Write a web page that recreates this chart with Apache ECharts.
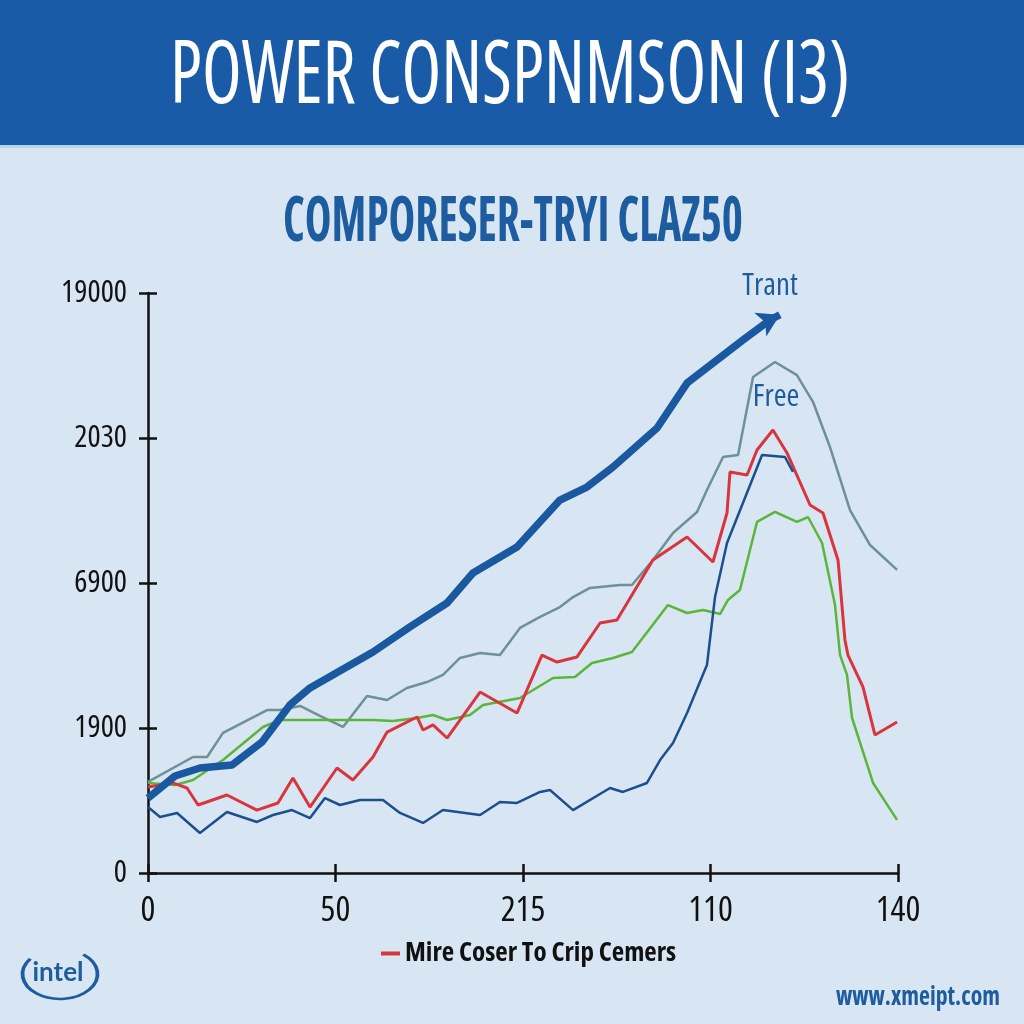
<!DOCTYPE html>
<html><head><meta charset="utf-8">
<script src="https://cdn.jsdelivr.net/npm/echarts@6/dist/echarts.min.js"></script>
<style>html,body{margin:0;padding:0;background:#d7e6f2}#c{width:1024px;height:1024px}</style>
</head><body><div id="c"></div>
<script>
// ---- tick labels (as printed on the chart) ----
const xTickLabels = ['0', '50', '215', '110', '140'];
const yTickLabels = ['0', '1900', '6900', '2030', '19000'];

// ---- series values: [x (sample index 0..40), y (axis units 0..400)] ----
const trendData = [[0,51.7],[1.44,66.9],[2.77,72.4],[4.48,74.5],[6.08,90.3],[7.57,115.9],[8.64,127.6],[12,152.4],[13.97,169.7],[15.95,186.2],[17.33,206.9],[19.68,224.8],[21.97,257.2],[23.41,266.2],[24.8,280],[27.15,306.9],[28.75,337.9],[31.73,367.6],[33.17,381.4],[33.7,385]];
const freeData = [[0,62.8],[2.4,80],[3.15,80],[4.0,96.6],[6.35,112.4],[7.04,112.4],[8.11,115.2],[9.17,108.3],[10.4,100.7],[11.68,122.1],[12.75,119.3],[13.81,127.6],[14.88,131.7],[15.73,136.6],[16.64,148.3],[17.71,151.7],[18.77,150.3],[19.84,169],[20.91,176.6],[21.97,183.4],[22.67,190.3],[23.57,196.6],[25.17,198.6],[25.81,198.6],[26.93,215.9],[28,234.5],[29.28,249],[29.81,264.1],[30.67,286.9],[31.47,288.3],[32.27,342.1],[33.44,352.4],[34.61,343.4],[35.47,324.8],[36.37,293.8],[37.44,250.3],[38.51,226.2],[39.95,209]];
const redData = [[0,59.3],[1.33,62.1],[2.08,58.6],[2.67,46.9],[4.21,53.8],[5.81,43.4],[6.93,48.3],[7.73,65.5],[8.64,45.5],[10.08,72.4],[10.93,64.1],[12,80],[12.75,97.2],[14.35,107.6],[14.67,98.6],[15.2,102.1],[15.95,93.1],[17.71,124.8],[19.68,110.3],[21.01,150.3],[21.81,145.5],[22.88,149],[24.11,172.4],[25.01,174.5],[26.93,215.9],[28.75,231.7],[30.13,214.5],[30.88,248.3],[31.04,276.6],[31.95,274.5],[32.48,291.7],[33.33,305.5],[34.08,289.7],[35.31,253.8],[36,248.3],[36.8,215.9],[37.17,160.7],[37.33,150.3],[38.13,128.3],[38.77,95.2],[39.95,104.1]];
const greenData = [[0,62.1],[1.44,60.7],[2.4,64.1],[4,77.9],[6.13,100.7],[7.04,105.5],[8.64,105.5],[10.24,105.5],[12,105.5],[13.07,104.8],[14.35,106.9],[15.2,109],[15.95,105.5],[17.17,109],[17.87,115.9],[19.84,120.7],[21.6,134.5],[22.77,135.2],[23.68,144.8],[24.8,148.3],[25.81,152.4],[27.73,184.8],[28.75,179.3],[29.6,181.4],[30.51,178.6],[30.93,188.3],[31.57,195.2],[32.48,242.1],[33.44,249],[34.61,242.1],[35.2,245.5],[35.95,227.6],[36.64,184.8],[36.91,150.3],[37.28,136.6],[37.55,106.9],[38.67,62.1],[39.95,36.6]];
const blueData = [[0,45.5],[0.64,38.6],[1.55,41.4],[2.77,27.6],[4.21,42.1],[5.81,35.2],[6.67,40],[7.68,43.4],[8.64,37.9],[9.44,51.7],[10.24,46.9],[11.31,50.3],[12.53,50.3],[13.44,41.4],[14.67,34.5],[15.73,43.4],[17.71,40],[18.77,49],[19.68,48.3],[20.91,55.9],[21.44,57.2],[22.67,43.4],[24.64,58.6],[25.33,55.9],[26.61,62.1],[27.31,77.9],[28,89.7],[28.75,110.3],[29.81,143.4],[30.24,190.3],[30.88,227.6],[32.75,288.3],[33.97,286.9],[34.4,276.6]];

const legendName = 'Mire Coser To Crip Cemers';
const BLUE = '#1d5c9f';

// ---- find an installed family that has a narrow width and use it for the label texts ----
const mctx = document.createElement('canvas').getContext('2d');
function pickCondensed() {
  const s = '19000 Mire Coser To Crip';
  if (!('fontStretch' in mctx)) return null;
  const tries = [['Noto Sans', 'extra-condensed', 0.8], ['Open Sans', 'condensed', 0.85], ['Noto Sans', 'condensed', 0.9], ['DejaVu Sans', 'condensed', 0.93]];
  for (const [f, st, lim] of tries) {
    mctx.fontStretch = 'normal';
    mctx.font = "40px '" + f + "'";
    const a = mctx.measureText(s).width;
    mctx.fontStretch = st;
    const b = mctx.measureText(s).width;
    mctx.fontStretch = 'normal';
    if (b < a * lim) return { family: f, stretch: st };
  }
  return null;
}
const cond = pickCondensed();
if (cond) {
  const desc = Object.getOwnPropertyDescriptor(CanvasRenderingContext2D.prototype, 'font');
  Object.defineProperty(CanvasRenderingContext2D.prototype, 'font', {
    configurable: true,
    get() { return desc.get.call(this); },
    set(v) { desc.set.call(this, v); this.fontStretch = (String(v).indexOf(cond.family) >= 0) ? cond.stretch : 'normal'; }
  });
}
const COND = cond ? ("'" + cond.family + "', sans-serif") : "'Liberation Sans', sans-serif";
const SZ = cond ? 1 : 0.88;

function fitScale(text, font, target) {
  mctx.font = font;
  return target / mctx.measureText(text).width;
}

const titleText = 'POWER CONSPNMSON (I3)';
const titleFont = "normal 88px " + COND;
const subText = 'COMPORESER-TRYI CLAZ50';
const subFont = "bold 62px " + COND;
const urlText = 'www.xmeipt.com';
const urlFont = "bold 26px " + COND;

// decorate special points
const trendSeriesData = trendData.map((p, i) => i === trendData.length - 1 ? {
  value: p, symbol: 'arrow', symbolSize: [20, 22], symbolRotate: -63,
  label: { show: true, formatter: 'Trant', position: 'top', offset: [0, 4], fontFamily: COND, fontSize: Math.round(31 * SZ), color: BLUE }
} : p);
let peakIdx = 0; freeData.forEach((p, i) => { if (p[1] > freeData[peakIdx][1]) peakIdx = i; });
const freeSeriesData = freeData.map((p, i) => i === peakIdx ? {
  value: p, symbol: 'circle', symbolSize: 1, itemStyle: { color: 'rgba(0,0,0,0)' },
  label: { show: true, formatter: 'Free', position: 'bottom', distance: 18, offset: [1, 1], fontFamily: COND, fontSize: Math.round(31 * SZ), color: BLUE }
} : p);

const chart = echarts.init(document.getElementById('c'), null, { renderer: 'canvas' });
const tickStyle = { color: '#111', width: 2.5 };
chart.setOption({
  animation: false,
  backgroundColor: '#d7e6f2',
  grid: { left: 148, right: 126, top: 293, bottom: 151, containLabel: false },
  xAxis: [{
    type: 'value', min: 0, max: 40, interval: 10, position: 'bottom',
    axisLine: { show: true, lineStyle: { color: '#111', width: 2.5 } },
    axisTick: { show: true, length: 9, lineStyle: tickStyle },
    splitLine: { show: false },
    axisLabel: { formatter: v => xTickLabels[Math.round(v / 10)], fontFamily: COND, fontSize: Math.round(35 * SZ), color: '#111', margin: 21 }
  }, {
    type: 'value', min: 0, max: 40, interval: 10, position: 'bottom', offset: 0,
    axisLine: { show: false }, axisLabel: { show: false }, splitLine: { show: false },
    axisTick: { show: true, inside: true, length: 9, lineStyle: tickStyle }
  }],
  yAxis: [{
    type: 'value', min: 0, max: 400, interval: 100, position: 'left',
    axisLine: { show: true, lineStyle: { color: '#111', width: 2.5 } },
    axisTick: { show: true, length: 9, lineStyle: tickStyle },
    splitLine: { show: false },
    axisLabel: { formatter: v => yTickLabels[Math.round(v / 100)], fontFamily: COND, fontSize: Math.round(31 * SZ), color: '#111', margin: 21 }
  }, {
    type: 'value', min: 0, max: 400, interval: 100, position: 'left', offset: 0,
    axisLine: { show: false }, axisLabel: { show: false }, splitLine: { show: false },
    axisTick: { show: true, inside: true, length: 9, lineStyle: tickStyle }
  }],
  legend: {
    data: [legendName], left: 376, top: 935, icon: 'rect', itemWidth: 19, itemHeight: 4, itemGap: 4,
    textStyle: { fontFamily: COND, fontWeight: 'bold', fontSize: Math.round(27 * SZ), color: '#111' }
  },
  series: [
    { name: 'Free', type: 'line', data: freeSeriesData, symbol: 'none', lineStyle: { color: '#6f9095', width: 2.5 }, itemStyle: { color: '#6f9095' }, z: 2 },
    { name: 'Green', type: 'line', data: greenData, symbol: 'none', lineStyle: { color: '#5bb53b', width: 2.5 }, itemStyle: { color: '#5bb53b' }, z: 3 },
    { name: legendName, type: 'line', data: redData, symbol: 'none', lineStyle: { color: '#d8363c', width: 3 }, itemStyle: { color: '#d8363c' }, z: 4 },
    { name: 'Blue', type: 'line', data: blueData, symbol: 'none', lineStyle: { color: '#1c4f8d', width: 2.5 }, itemStyle: { color: '#1c4f8d' }, z: 5 },
    { name: 'Trant', type: 'line', data: trendSeriesData, symbol: 'none', showSymbol: true, lineStyle: { color: '#1a58a0', width: 7.5, join: 'round' }, itemStyle: { color: '#1a58a0' }, z: 6 }
  ],
  graphic: [
    { type: 'rect', left: 0, top: 0, shape: { width: 1024, height: 145 }, style: { fill: '#1a5ba7' }, z: 0 },
    { type: 'rect', left: 0, top: 145, shape: { width: 1024, height: 3 }, style: { fill: '#b5d2ee' }, z: 0 },
    { type: 'text', x: 510, y: 78, scaleX: fitScale(titleText, titleFont, 680), z: 5,
      style: { text: titleText, font: titleFont, fill: '#ffffff', textAlign: 'center', textVerticalAlign: 'middle' } },
    { type: 'text', x: 513, y: 223, scaleX: fitScale(subText, subFont, 460), z: 5,
      style: { text: subText, font: subFont, fill: BLUE, textAlign: 'center', textVerticalAlign: 'middle' } },
    { type: 'text', x: 1000, y: 998, scaleX: fitScale(urlText, urlFont, 164), z: 5,
      style: { text: urlText, font: urlFont, fill: BLUE, textAlign: 'right', textVerticalAlign: 'middle' } },
    { type: 'arc', x: 60, y: 974, scaleX: 1.5, z: 5,
      shape: { cx: 0, cy: 0, r: 25, startAngle: -0.9, endAngle: 3.8, clockwise: true },
      style: { stroke: BLUE, lineWidth: 2.5, fill: null } },
    { type: 'text', x: 58, y: 973, z: 5,
      style: { text: 'intel', font: "bold 26px Lato, sans-serif", fill: BLUE, textAlign: 'center', textVerticalAlign: 'middle' } }
  ]
});
</script>
</body></html>
